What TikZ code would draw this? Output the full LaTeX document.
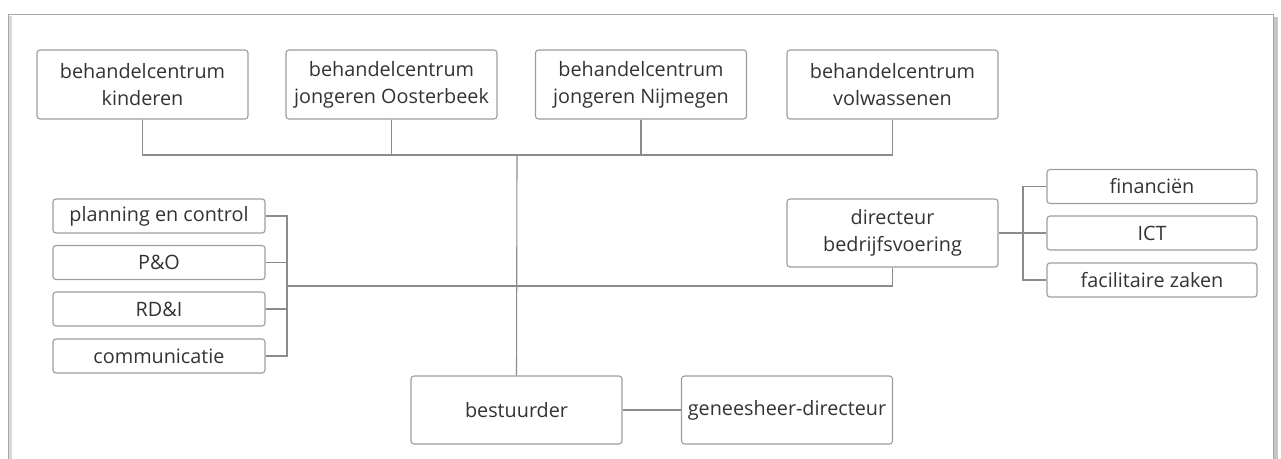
\documentclass[tikz,border=0pt]{standalone}
\usepackage{fontspec}
\setmainfont{Open Sans}
\usetikzlibrary{positioning}
\definecolor{boxline}{HTML}{9C9C9C}
\definecolor{linkcol}{HTML}{8C8C8C}
\definecolor{txtcol}{HTML}{333333}
\tikzset{
  unit/.style={draw=boxline, rounded corners=3pt, line width=1.1pt, text=txtcol,
    align=center, inner sep=0pt, minimum width=211pt, minimum height=69pt,
    font=\fontsize{19.8}{27}\selectfont},
  staff/.style={unit, minimum width=212pt, minimum height=34pt},
  link/.style={draw=linkcol, line width=1.1pt}
}
\begin{document}
\begin{tikzpicture}[x=1pt,y=-1pt]
  \useasboundingbox (0,0) rectangle (1281,458);
  % frame
  \draw[gray!30, line width=4pt] (10,16) -- (10,470);
  \draw[gray!45, line width=4pt] (1276,17) -- (1276,470);
  \draw[gray!70, line width=1pt] (8,470) -- (8,14) -- (1273,14) -- (1273,470);

  % units
  \node[unit] (kind) at (142.5,84.5) {behandelcentrum\\kinderen};
  \node[unit] (oost) at (391.5,84.5) {behandelcentrum\\jongeren Oosterbeek};
  \node[unit] (nijm) at (641,84.5) {behandelcentrum\\jongeren Nijmegen};
  \node[unit] (volw) at (892.5,84.5) {behandelcentrum\\volwassenen};
  \node[unit, minimum height=68pt] (dir) at (892.5,233) {directeur\\bedrijfsvoering};
  \node[unit, minimum height=68pt] (best) at (516.5,410) {bestuurder};
  \node[unit, minimum height=68pt] (gen) at (787,410) {geneesheer-directeur};

  % staff
  \node[staff] (plan) at (159,216) {planning en control};
  \node[staff] (po) at (159,262.5) {P\&O};
  \node[staff] (rdi) at (159,309) {RD\&I};
  \node[staff] (comm) at (159,356) {communicatie};

  % support
  \node[staff, minimum width=210pt] (fin) at (1152,186.5) {financiën};
  \node[staff, minimum width=210pt] (ict) at (1152,233) {ICT};
  \node[staff, minimum width=210pt] (fac) at (1152,280) {facilitaire zaken};

  \coordinate (bus) at (517,155);
  \coordinate (sbar) at (287,286);
  \coordinate (rbar) at (1023,233);

  \draw[link] (kind.south) |- (bus) -| (volw.south);
  \draw[link] (oost.south) -- (oost.south |- bus);
  \draw[link] (nijm.south) -- (nijm.south |- bus);
  \draw[link] (bus) -- (best.north);
  \draw[link] (best.east) -- (gen.west);

  \draw[link] (plan.east) -| (sbar |- comm.east) -- (comm.east);
  \draw[link] (po.east) -- (po.east -| sbar);
  \draw[link] (rdi.east) -- (rdi.east -| sbar);
  \draw[link] (sbar) -| (dir.south);

  \draw[link] (fin.west) -| (rbar |- fac.west) -- (fac.west);
  \draw[link] (dir.east) -- (ict.west);
\end{tikzpicture}
\end{document}
